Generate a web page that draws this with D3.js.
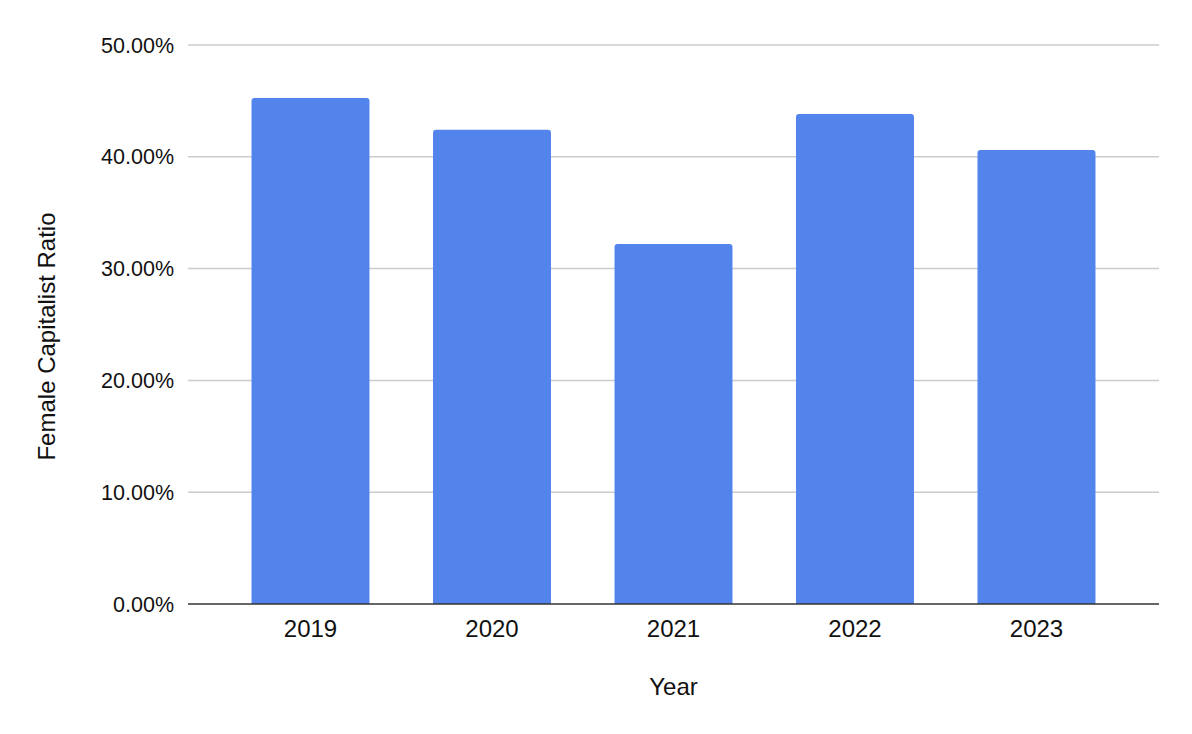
<!DOCTYPE html>
<html><head><meta charset="utf-8">
<script src="https://cdn.jsdelivr.net/npm/d3@7"></script>
<style>body{margin:0;background:#fff;} svg{display:block;font-family:"Liberation Sans",Arial,sans-serif;}</style>
</head><body>
<svg id="chart" width="1192" height="734"></svg>
<script>
const years = ["2019","2020","2021","2022","2023"];
const ratios = [0.4526, 0.4242, 0.3220, 0.4383, 0.4060];
const yTicks = [0, 0.1, 0.2, 0.3, 0.4, 0.5];
const xTitle = "Year";
const yTitle = "Female Capitalist Ratio";

const svg = d3.select("#chart");
const pLeft = 188, pRight = 1159, pTop = 45, pBottom = 604;
const x = d3.scaleBand().domain(years).range([pLeft, pRight]).paddingInner(0.35).paddingOuter(0.35);
const y = d3.scaleLinear().domain([0, 0.5]).range([pBottom, pTop]);

// gridlines
svg.append("g").selectAll("line").data(yTicks.filter(d => d > 0)).join("line")
  .attr("x1", pLeft).attr("x2", pRight)
  .attr("y1", d => y(d)).attr("y2", d => y(d))
  .attr("stroke", "#cccccc").attr("stroke-width", 1.5);

// y labels
svg.append("g").selectAll("text").data(yTicks).join("text")
  .attr("x", 174).attr("y", d => y(d)).attr("dy", "0.35em")
  .attr("text-anchor", "end").attr("font-size", 21.5).attr("fill", "#111")
  .text(d => d3.format(".2%")(d));

// bars with rounded top corners
const r = 3;
svg.append("g").selectAll("path").data(years.map((k, i) => ({k, v: ratios[i]}))).join("path")
  .attr("fill", "#5384ec")
  .attr("d", d => {
    const x0 = x(d.k), w = x.bandwidth(), y0 = y(d.v), yb = y(0);
    return `M${x0},${yb}V${y0 + r}Q${x0},${y0} ${x0 + r},${y0}H${x0 + w - r}Q${x0 + w},${y0} ${x0 + w},${y0 + r}V${yb}Z`;
  });

// baseline
svg.append("line").attr("x1", pLeft).attr("x2", pRight).attr("y1", y(0)).attr("y2", y(0))
  .attr("stroke", "#333").attr("stroke-width", 1.5);

// x labels
svg.append("g").selectAll("text").data(years).join("text")
  .attr("x", d => x(d) + x.bandwidth() / 2).attr("y", 636.5)
  .attr("text-anchor", "middle").attr("font-size", 24).attr("fill", "#111")
  .text(d => d);

svg.append("text").attr("x", (pLeft + pRight) / 2).attr("y", 694.5)
  .attr("text-anchor", "middle").attr("font-size", 24).attr("fill", "#111").text(xTitle);

svg.append("text").attr("transform", "translate(55,336.5) rotate(-90)")
  .attr("text-anchor", "middle").attr("font-size", 24).attr("fill", "#111").text(yTitle);
</script>
</body></html>
